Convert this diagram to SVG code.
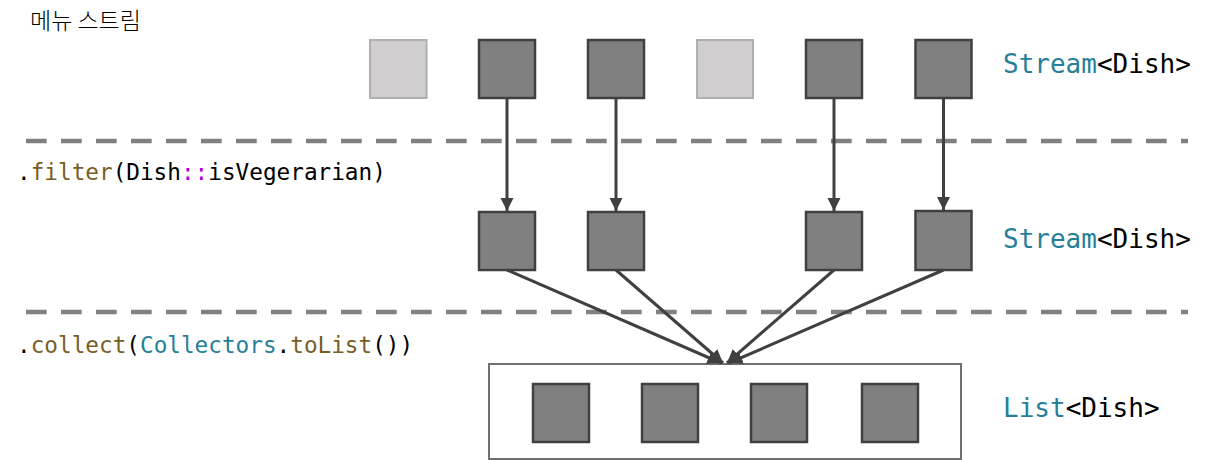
<svg xmlns="http://www.w3.org/2000/svg" width="1214" height="460" viewBox="0 0 1214 460">
<style>
.box{fill:#808080;stroke:#404040;stroke-width:2.5}
.ghost{fill:#D0CECF;stroke:#B0AEAF;stroke-width:2}
.dash{stroke:#808080;stroke-width:4.5;stroke-dasharray:20.7 14.3;fill:none}
.edge{stroke:#404040;stroke-width:3;fill:none;marker-end:url(#ah)}
.code{font-family:"DejaVu Sans Mono","Liberation Mono",monospace;font-size:22.7px;fill:#000}
.type{font-family:"DejaVu Sans Mono","Liberation Mono",monospace;font-size:26px;fill:#000}
.fn{fill:#795E26}
.ty{fill:#267F99}
.op{fill:#AF00DB}
.kr{font-family:"Noto Sans CJK KR","Noto Sans",sans-serif;font-size:23px;font-weight:300;fill:#000}
</style>
<defs>
<marker id="ah" viewBox="0 0 10 10" refX="10" refY="5" markerWidth="4.5" markerHeight="4.5" orient="auto" markerUnits="strokeWidth">
<path d="M0,0 L10,5 L0,10 z" fill="#404040"/>
</marker>
</defs>
<rect width="1214" height="460" fill="#fff"/>
<text class="kr" x="30" y="29">메뉴 스트림</text>
<g id="separators">
<line class="dash" x1="26" y1="141" x2="1188" y2="141"/>
<line class="dash" x1="26" y1="312" x2="1188" y2="312"/>
</g>
<text class="code" x="17" y="180">.<tspan class="fn">filter</tspan>(Dish<tspan class="op">::</tspan>isVegerarian)</text>
<text class="code" x="17" y="353">.<tspan class="fn">collect</tspan>(<tspan class="ty">Collectors</tspan>.<tspan class="fn">toList</tspan>())</text>
<text class="type" x="1003" y="73"><tspan class="ty">Stream</tspan>&lt;Dish&gt;</text>
<text class="type" x="1003" y="248"><tspan class="ty">Stream</tspan>&lt;Dish&gt;</text>
<text class="type" x="1003" y="417"><tspan class="ty">List</tspan>&lt;Dish&gt;</text>
<g id="stream1">
<rect id="s1a" class="ghost" x="370" y="40" width="56.5" height="58"/>
<rect id="s1b" class="box" x="479" y="40" width="56" height="58"/>
<rect id="s1c" class="box" x="588" y="40" width="56" height="58"/>
<rect id="s1d" class="ghost" x="697" y="40" width="56" height="58"/>
<rect id="s1e" class="box" x="806" y="40" width="56" height="58"/>
<rect id="s1f" class="box" x="915.5" y="40" width="56" height="58"/>
</g>
<g id="stream2">
<rect id="s2a" class="box" x="479" y="212" width="56" height="58"/>
<rect id="s2b" class="box" x="588" y="212" width="56" height="58"/>
<rect id="s2c" class="box" x="806" y="212" width="56" height="58"/>
<rect id="s2d" class="box" x="915.5" y="211" width="56" height="59"/>
</g>
<g id="list">
<rect id="container" x="489" y="364" width="472" height="95" fill="#fff" stroke="#707070" stroke-width="2"/>
<rect id="l1" class="box" x="533" y="384" width="56" height="58"/>
<rect id="l2" class="box" x="642" y="384" width="56" height="58"/>
<rect id="l3" class="box" x="751" y="384" width="56" height="58"/>
<rect id="l4" class="box" x="862" y="384" width="56" height="58"/>
</g>
<g id="connectors">
<line class="edge" x1="507" y1="99" x2="507" y2="211"/>
<line class="edge" x1="616" y1="99" x2="616" y2="211"/>
<line class="edge" x1="834" y1="99" x2="834" y2="211"/>
<line class="edge" x1="943.5" y1="99" x2="943.5" y2="210"/>
<line class="edge" x1="507" y1="270" x2="721" y2="363"/>
<line class="edge" x1="616" y1="270" x2="723" y2="363"/>
<line class="edge" x1="834" y1="270" x2="727" y2="363"/>
<line class="edge" x1="943.5" y1="270" x2="729" y2="363"/>
</g>
</svg>
